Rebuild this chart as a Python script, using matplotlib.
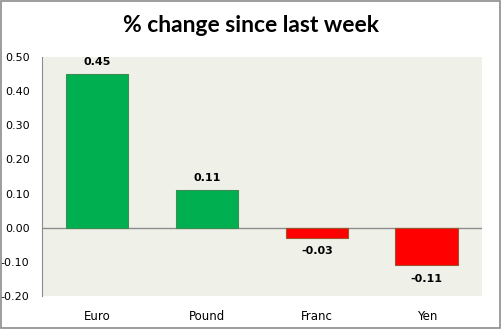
import numpy as np
import matplotlib.pyplot as plt

categories = ['Euro', 'Pound', 'Franc', 'Yen']
changes = [0.45, 0.11, -0.03, -0.11]
yticks = [-0.20, -0.10, 0.00, 0.10, 0.20, 0.30, 0.40, 0.50]

fig = plt.figure(figsize=(5.02, 3.29), dpi=100)
ax = fig.add_axes([0.0837, 0.1003, 0.876, 0.7264])
ax.set_facecolor('#EFF1E9')

x = np.arange(len(categories))
colors = ['#00B050' if v >= 0 else '#FF0000' for v in changes]
edges = ['#3C8F50' if v >= 0 else '#A0522D' for v in changes]
ax.bar(x, changes, width=0.57, color=colors, edgecolor=edges, linewidth=0.8, zorder=3)

for xi, v in zip(x, changes):
    if v >= 0:
        ax.text(xi, v + 0.022, f'{v:.2f}', ha='center', va='bottom',
                fontsize=8, fontweight='bold')
    else:
        ax.text(xi, v - 0.025, f'{v:.2f}', ha='center', va='top',
                fontsize=8, fontweight='bold')

ax.axhline(0, color='#8C8C8C', linewidth=1, zorder=2)
ax.set_xlim(-0.5, len(categories) - 0.5)
ax.set_ylim(-0.20, 0.50)
ax.set_yticks(yticks)
ax.set_yticklabels([f'{t:.2f}' for t in yticks], fontsize=8)
ax.set_xticks(x)
ax.set_xticklabels(categories, fontsize=8.5)
ax.tick_params(length=0, pad=10)
ax.tick_params(axis='y', pad=9)
for s in ['top', 'right', 'bottom']:
    ax.spines[s].set_visible(False)
ax.spines['left'].set_color('#8C8C8C')

fig.text(0.5, 0.924, '% change since last week', ha='center', va='center',
         fontsize=16.5, fontweight='bold', family='Lato')

fig.patches.append(plt.Rectangle((0.001, 0.004), 0.996, 0.994, transform=fig.transFigure,
                                 fill=False, edgecolor='#8C8C8C', linewidth=1.2))

fig.savefig('out.png', dpi=100)
